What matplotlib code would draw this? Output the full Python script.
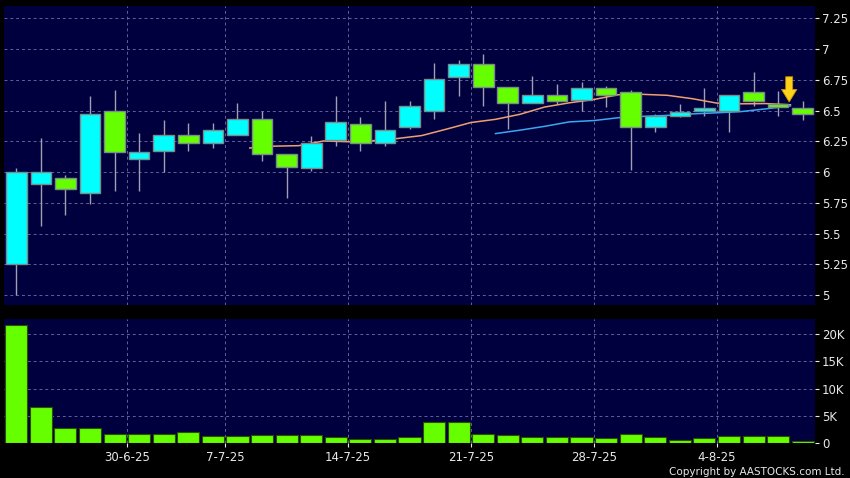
import matplotlib
matplotlib.use("Agg")
import matplotlib.pyplot as plt
import numpy as np

# ---------------- data ----------------
opens  = [5.25, 5.90, 5.95, 5.83, 6.50, 6.11, 6.17, 6.30, 6.24, 6.30,
          6.43, 6.15, 6.03, 6.26, 6.39, 6.24, 6.37, 6.50, 6.77, 6.88,
          6.69, 6.56, 6.63, 6.59, 6.68, 6.65, 6.37, 6.46, 6.50, 6.50,
          6.65, 6.55, 6.52]
highs  = [6.03, 6.28, 5.98, 6.62, 6.67, 6.32, 6.42, 6.40, 6.40, 6.56,
          6.50, 6.15, 6.29, 6.62, 6.45, 6.58, 6.58, 6.89, 6.91, 6.96,
          6.69, 6.78, 6.72, 6.73, 6.70, 6.67, 6.47, 6.55, 6.68, 6.63,
          6.81, 6.66, 6.58]
lows   = [5.00, 5.56, 5.65, 5.74, 5.85, 5.85, 6.00, 6.17, 6.20, 6.30,
          6.09, 5.79, 6.01, 6.21, 6.17, 6.21, 6.35, 6.43, 6.62, 6.54,
          6.35, 6.56, 6.55, 6.50, 6.53, 6.02, 6.33, 6.45, 6.46, 6.33,
          6.54, 6.46, 6.42]
closes = [6.00, 6.00, 5.86, 6.47, 6.16, 6.16, 6.30, 6.24, 6.34, 6.43,
          6.15, 6.04, 6.24, 6.41, 6.24, 6.34, 6.54, 6.76, 6.88, 6.69,
          6.56, 6.63, 6.58, 6.68, 6.63, 6.37, 6.46, 6.49, 6.52, 6.63,
          6.58, 6.53, 6.47]
volumes = [21700, 6700, 2800, 2750, 1650, 1650, 1650, 2080, 1220, 1280,
           1470, 1400, 1400, 1160, 800, 800, 1040, 3900, 3900, 1650,
           1400, 1160, 1040, 1160, 920, 1590, 1160, 610, 920, 1280,
           1280, 1350, 430]
ma10 = [6.196, 6.211, 6.215, 6.253, 6.247, 6.255, 6.273, 6.297, 6.349, 6.403,
        6.429, 6.470, 6.529, 6.563, 6.590, 6.629, 6.632, 6.624, 6.597, 6.561,
        6.555, 6.557, 6.547]
ma10_start = 9
ma20 = [6.313, 6.341, 6.372, 6.408, 6.419, 6.442, 6.453, 6.461, 6.473, 6.482,
        6.492, 6.514, 6.538]
ma20_start = 19
week_labels = ["30-6-25", "7-7-25", "14-7-25", "21-7-25", "28-7-25", "4-8-25"]
week_starts = [5, 9, 14, 19, 24, 29]   # index of first trading day in each week
price_ticks = [5, 5.25, 5.5, 5.75, 6, 6.25, 6.5, 6.75, 7, 7.25]
price_tick_labels = ["5", "5.25", "5.5", "5.75", "6", "6.25", "6.5", "6.75", "7", "7.25"]
vol_ticks = [0, 5000, 10000, 15000, 20000]
vol_tick_labels = ["0", "5K", "10K", "15K", "20K"]
signal_index = 31

# ---------------- style ----------------
BG = "#00003f"
UP = "#00ffff"
DOWN = "#66ff00"
GRID = "#62629a"
TXT = "#e8e8e8"

W, H = 850, 478
fig = plt.figure(figsize=(W / 100, H / 100), dpi=100, facecolor="black")

def px_axes(l, t, r, b):
    return fig.add_axes([l / W, 1 - b / H, (r - l) / W, (b - t) / H])

ax = px_axes(4, 6, 815, 305)
axv = px_axes(4, 319, 815, 443)

n = len(opens)
x = np.arange(n)
o = np.array(opens); c = np.array(closes)
hi = np.array(highs); lo = np.array(lows)

for a in (ax, axv):
    a.set_facecolor(BG)
    for s in a.spines.values():
        s.set_visible(False)
    a.set_xlim(-0.5, n - 0.5)
    a.yaxis.tick_right()
    a.tick_params(axis="y", colors=TXT, labelsize=8.5, length=3, width=0.8, pad=2)
    for xv in week_starts:
        a.axvline(xv - 0.5, color=GRID, lw=0.7, ls=(0, (3, 3)), zorder=0)

# price panel
ax.set_ylim(4.92, 7.35)
ax.set_yticks(price_ticks)
ax.set_yticklabels(price_tick_labels)
for yv in price_ticks:
    ax.axhline(yv, color=GRID, lw=0.7, ls=(0, (3, 3)), zorder=0)
ax.set_xticks([])

ax.vlines(x, lo, hi, color="#a0a0b0", lw=1, zorder=2)
up = c >= o
colors = np.where(up, UP, DOWN)
bottoms = np.minimum(o, c)
heights = np.maximum(np.abs(c - o), 0.012)
ax.bar(x, heights, bottom=bottoms, width=0.84, color=colors,
       edgecolor="#7a8c8c", linewidth=1, zorder=3)

ax.plot(np.arange(ma10_start, ma10_start + len(ma10)) + 0.5, ma10,
        color="#f0a070", lw=1.1, zorder=2.5)
ax.plot(np.arange(ma20_start, ma20_start + len(ma20)) + 0.5, ma20,
        color="#3aa8f0", lw=1.1, zorder=2.5)

ax.annotate("", xy=(signal_index + 0.45, 6.57), xytext=(signal_index + 0.45, 6.775),
            arrowprops=dict(arrowstyle="simple,head_length=0.9,head_width=1.1,tail_width=0.5",
                            mutation_scale=10, fc="#ffd21a", ec="#c89000", lw=0.6,
                            shrinkA=0, shrinkB=0),
            zorder=5)

# volume panel
axv.set_ylim(0, 22800)
axv.set_yticks(vol_ticks)
axv.set_yticklabels(vol_tick_labels)
for yv in vol_ticks[1:]:
    axv.axhline(yv, color=GRID, lw=0.7, ls=(0, (3, 3)), zorder=0)
axv.bar(x, volumes, width=0.9, color=DOWN, edgecolor="#2a5000", linewidth=0.8, zorder=3)
axv.set_xticks([s - 0.5 for s in week_starts])
axv.set_xticklabels(week_labels)
axv.tick_params(axis="x", colors=TXT, labelsize=8.5, length=3, width=0.8, pad=3)

fig.text(845 / W, 1 - 472 / H, "Copyright by AASTOCKS.com Ltd.", color=TXT,
         fontsize=7.5, ha="right", va="center")

fig.savefig("out.png", dpi=100, facecolor="black")
